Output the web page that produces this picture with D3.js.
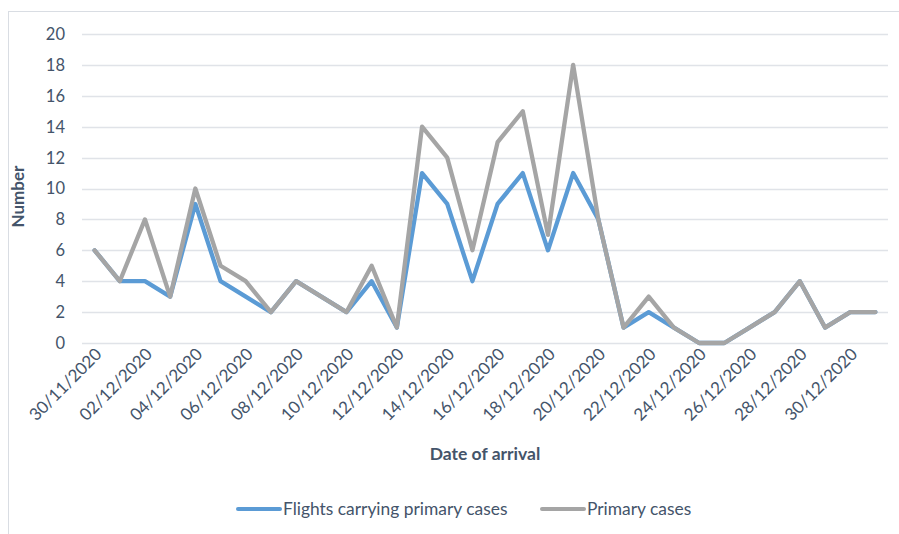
<!DOCTYPE html>
<html>
<head>
<meta charset="utf-8">
<script src="https://cdn.jsdelivr.net/npm/d3@7"></script>
<style>
  body { margin: 0; background: #fff; }
  text { font-family: Lato, "Open Sans", sans-serif; fill: #44546a; }
</style>
</head>
<body>
<div id="chart"></div>
<script>
// Data: arrivals 30/11/2020 .. 31/12/2020
const dates = ["30/11/2020", "01/12/2020", "02/12/2020", "03/12/2020", "04/12/2020",
  "05/12/2020", "06/12/2020", "07/12/2020", "08/12/2020", "09/12/2020", "10/12/2020",
  "11/12/2020", "12/12/2020", "13/12/2020", "14/12/2020", "15/12/2020", "16/12/2020",
  "17/12/2020", "18/12/2020", "19/12/2020", "20/12/2020", "21/12/2020", "22/12/2020",
  "23/12/2020", "24/12/2020", "25/12/2020", "26/12/2020", "27/12/2020", "28/12/2020",
  "29/12/2020", "30/12/2020", "31/12/2020"];
const flights = [6, 4, 4, 3, 9, 4, 3, 2, 4, 3, 2, 4, 1, 11, 9, 4, 9, 11, 6, 11, 8,
  1, 2, 1, 0, 0, 1, 2, 4, 1, 2, 2];
const primary = [6, 4, 8, 3, 10, 5, 4, 2, 4, 3, 2, 5, 1, 14, 12, 6, 13, 15, 7, 18, 8,
  1, 3, 1, 0, 0, 1, 2, 4, 1, 2, 2];
const yTicks = [0, 2, 4, 6, 8, 10, 12, 14, 16, 18, 20];
const seriesNames = ["Flights carrying primary cases", "Primary cases"];
const colors = ["#5b9bd5", "#a5a5a5"];

const W = 899, H = 534;
const margin = { top: 34, right: 11, bottom: 191, left: 82 };
const width = W - margin.left - margin.right;
const height = H - margin.top - margin.bottom;

const svg = d3.select("#chart").append("svg")
  .attr("width", W).attr("height", H);

// chart border
svg.append("rect")
  .attr("x", 8.5).attr("y", 11.5)
  .attr("width", W + 10).attr("height", H + 10)
  .attr("fill", "none").attr("stroke", "#d9dde3").attr("stroke-width", 1);

const g = svg.append("g")
  .attr("transform", "translate(" + margin.left + "," + margin.top + ")");

const x = d3.scaleBand().domain(dates).range([0, width]);
const y = d3.scaleLinear().domain([0, 20]).range([height, 0]);

// gridlines
g.selectAll(".grid")
  .data(yTicks)
  .enter().append("line")
    .attr("x1", 0).attr("x2", width)
    .attr("y1", d => Math.round(y(d)) + 0.5).attr("y2", d => Math.round(y(d)) + 0.5)
    .attr("stroke", "#e0e3e8").attr("stroke-width", 1.3);

// y tick labels
g.selectAll(".ylab")
  .data(yTicks)
  .enter().append("text")
    .attr("x", -17).attr("y", d => y(d))
    .attr("dy", "0.36em")
    .attr("text-anchor", "end")
    .style("font-size", "16.5px")
    .text(d => d);

// x tick labels, every other date
g.selectAll(".xlab")
  .data(dates.filter((d, i) => i % 2 === 0))
  .enter().append("text")
    .attr("transform", d => "translate(" + (x(d) + x.bandwidth() / 2 + 4) + "," + (height + 8) + ") rotate(-45)")
    .attr("text-anchor", "end")
    .attr("dy", "0.35em")
    .style("font-size", "17px")
    .text(d => d);

// lines
const line = d3.line()
  .x((d, i) => x(dates[i]) + x.bandwidth() / 2)
  .y(d => y(d));

[flights, primary].forEach((vals, k) => {
  g.append("path")
    .datum(vals)
    .attr("d", line)
    .attr("fill", "none")
    .attr("stroke", colors[k])
    .attr("stroke-width", 4.3)
    .attr("stroke-linejoin", "round")
    .attr("stroke-linecap", "round");
});

// axis titles
svg.append("text")
  .attr("transform", "translate(24," + (margin.top + height / 2 + 8) + ") rotate(-90)")
  .attr("text-anchor", "middle")
  .style("font-size", "17px").style("font-weight", "bold")
  .text("Number");

svg.append("text")
  .attr("x", 485).attr("y", 460)
  .attr("text-anchor", "middle")
  .style("font-size", "17.5px").style("font-weight", "bold")
  .text("Date of arrival");

// legend
const legendX = [236, 540];
seriesNames.forEach((name, k) => {
  const lg = svg.append("g").attr("transform", "translate(" + legendX[k] + ",509)");
  lg.append("line")
    .attr("x1", 2).attr("x2", 44).attr("y1", 0).attr("y2", 0)
    .attr("stroke", colors[k]).attr("stroke-width", 4).attr("stroke-linecap", "round");
  lg.append("text")
    .attr("x", 47).attr("dy", "0.36em")
    .style("font-size", "17.4px")
    .text(name);
});
</script>
</body>
</html>
